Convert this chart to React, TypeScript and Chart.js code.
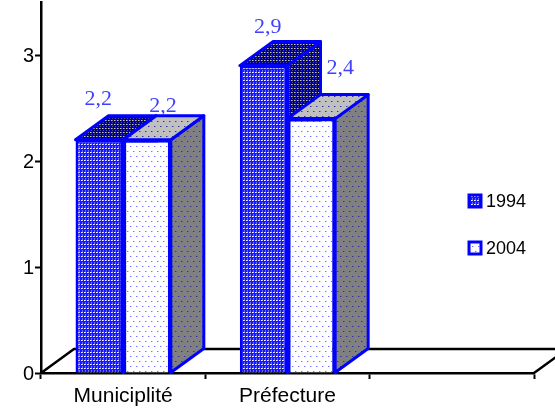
import React, { useEffect, useRef } from "react";
import { Chart, registerables } from "chart.js";

Chart.register(...registerables);

const categories = ["Municiplité", "Préfecture", ""];
const series1994 = [2.2, 2.9, null];
const series2004 = [2.2, 2.4, null];
const label1994 = "1994";
const label2004 = "2004";
const yTicks = [0, 1, 2, 3];
const valueTexts = [["2,2", "2,9"], ["2,2", "2,4"]];
const labelOffsets = [
  [[-1, -41], [4, -38]],
  [[16, -34], [29, -50]],
];

const BLUE = "#0000ff";
const DX = 33;
const DY = 24;
const FONT = "'Liberation Sans', Arial, sans-serif";

type Dot = [number, number, string];

function pattern(bg: string, w: number, h: number, dots: Dot[]) {
  const c = document.createElement("canvas");
  c.width = w;
  c.height = h;
  const g = c.getContext("2d")!;
  g.fillStyle = bg;
  g.fillRect(0, 0, w, h);
  dots.forEach(([x, y, col]) => {
    g.fillStyle = col;
    g.fillRect(x, y, 1, 1);
  });
  return g.createPattern(c, "repeat")!;
}

function face(ctx: CanvasRenderingContext2D, pts: number[][], fill: CanvasPattern) {
  ctx.beginPath();
  pts.forEach(([x, y], i) => (i ? ctx.lineTo(x, y) : ctx.moveTo(x, y)));
  ctx.closePath();
  ctx.fillStyle = fill;
  ctx.fill();
  ctx.stroke();
}

export default function App() {
  const ref = useRef<HTMLCanvasElement>(null);
  useEffect(() => {
    const frontA = pattern("#1818ff", 3, 4, [
      [0, 0, "#ffffff"], [1, 0, "#c0c0ff"],
      [1, 2, "#7070ff"], [1, 3, "#6060ff"],
    ]);
    const darkA = pattern("#0000a0", 3, 4, [
      [0, 0, "#c8c8a8"], [1, 0, "#707090"],
      [1, 2, "#505090"],
    ]);
    const sparse = (a: string, b: string): Dot[] => [
      [1, 1, a], [2, 1, b], [4, 6, a], [5, 6, b],
    ];
    const frontB = pattern("#ffffff", 6, 10, sparse("#7070ff", "#c8c8ff"));
    const sideB = pattern("#808080", 6, 10, sparse("#303098", "#606090"));
    const topB = pattern("#c0c0c0", 6, 10, sparse("#303098", "#8080a8"));

    const faces = {
      id: "faces",
      beforeDatasetsDraw(chart: any) {
        const { ctx, chartArea: a, scales } = chart;
        const y0 = scales.y.getPixelForValue(0);
        ctx.save();
        ctx.strokeStyle = "#000";
        ctx.lineWidth = 2.5;
        ctx.beginPath();
        ctx.moveTo(a.left, y0);
        ctx.lineTo(a.left + DX, y0 - DY);
        ctx.lineTo(a.right + DX, y0 - DY);
        ctx.lineTo(a.right, y0);
        ctx.stroke();
        ctx.restore();
      },
      // The library would paint the second series first; paint them left to right below instead.
      beforeDatasetDraw() {
        return false;
      },
      afterDatasetsDraw(chart: any) {
        const { ctx } = chart;
        [0, 1].forEach((di) => {
          const meta = chart.getDatasetMeta(di);
          meta.controller.draw();
          ctx.save();
          ctx.strokeStyle = BLUE;
          ctx.lineWidth = 3;
          ctx.lineJoin = "round";
          meta.data.forEach((bar: any, i: number) => {
            if (chart.data.datasets[di].data[i] == null) return;
            const l = bar.x - bar.width / 2;
            const r = bar.x + bar.width / 2;
            face(ctx, [[r, bar.y], [r + DX, bar.y - DY], [r + DX, bar.base - DY], [r, bar.base]], di === 0 ? darkA : sideB);
            face(ctx, [[l, bar.y], [l + DX, bar.y - DY], [r + DX, bar.y - DY], [r, bar.y]], di === 0 ? darkA : topB);
          });
          ctx.restore();
        });
      },
      afterDraw(chart: any) {
        const { ctx } = chart;
        ctx.save();
        ctx.font = "22px 'Liberation Serif', serif";
        ctx.fillStyle = "#4040ff";
        ctx.textAlign = "center";
        ctx.textBaseline = "middle";
        [0, 1].forEach((di) => {
          chart.getDatasetMeta(di).data.forEach((bar: any, i: number) => {
            const text = valueTexts[di][i];
            if (!text) return;
            const [ox, oy] = labelOffsets[di][i];
            ctx.fillText(text, bar.x + ox, bar.y + oy);
          });
        });
        [
          { y: 194, fill: frontA, text: chart.data.datasets[0].label },
          { y: 241, fill: frontB, text: chart.data.datasets[1].label },
        ].forEach((e) => {
          ctx.fillStyle = e.fill;
          ctx.strokeStyle = BLUE;
          ctx.lineWidth = 3;
          ctx.fillRect(469, e.y + 1, 12, 12);
          ctx.strokeRect(469, e.y + 1, 12, 12);
          ctx.fillStyle = "#000";
          ctx.font = `18px ${FONT}`;
          ctx.textAlign = "left";
          ctx.fillText(e.text, 486, e.y + 8);
        });
        ctx.restore();
      },
    };

    const chart = new Chart(ref.current!, {
      type: "bar",
      data: {
        labels: categories,
        datasets: [
          { label: label1994, data: series1994, backgroundColor: frontA, borderColor: BLUE, borderWidth: 3 },
          { label: label2004, data: series2004, backgroundColor: frontB, borderColor: BLUE, borderWidth: 3 },
        ],
      },
      options: {
        responsive: false,
        animation: false,
        devicePixelRatio: 1,
        layout: { padding: { top: 2, right: 21, left: 0, bottom: 0 } },
        datasets: { bar: { categoryPercentage: 0.58, barPercentage: 1 } },
        plugins: { legend: { display: false }, tooltip: { enabled: false } },
        scales: {
          x: {
            afterFit: (s: any) => { s.height = 40; s.paddingLeft = 0; s.paddingRight = 0; },
            border: { color: "#000", width: 2.5 },
            grid: { drawOnChartArea: false, drawTicks: true, tickLength: 6, tickWidth: 2, tickColor: "#000", offset: true },
            ticks: { color: "#000", font: { family: FONT, size: 21 }, padding: 5, maxRotation: 0 },
          },
          y: {
            min: 0,
            max: 3.5,
            afterFit: (s: any) => { s.width = 41; s.paddingTop = 0; s.paddingBottom = 0; },
            afterBuildTicks: (s: any) => { s.ticks = yTicks.map((value) => ({ value })); },
            border: { color: "#000", width: 2.5 },
            grid: { drawOnChartArea: false, drawTicks: true, tickLength: 6, tickWidth: 2, tickColor: "#000" },
            ticks: { color: "#000", font: { family: FONT, size: 20 }, padding: 1, labelOffset: 1 },
          },
        },
      } as any,
      plugins: [faces],
    });
    return () => chart.destroy();
  }, []);
  return <canvas ref={ref} width={555} height={413} style={{ position: "absolute", left: 0, top: 0, width: 555, height: 413 }} />;
}
